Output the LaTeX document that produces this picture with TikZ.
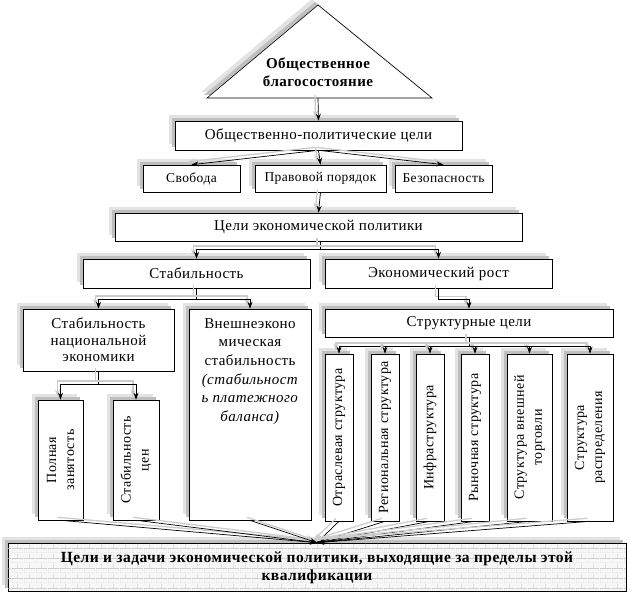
\documentclass[tikz,border=0pt]{standalone}
\usepackage{fontspec}
\setmainfont{Liberation Serif}[LetterSpace=3]
\usetikzlibrary{shadows,patterns,arrows.meta}

\pgfdeclarepatternformonly{smallbricks}{\pgfpointorigin}{\pgfpoint{12pt}{10pt}}{\pgfpoint{12pt}{10pt}}{%
  \pgfsetlinewidth{0.4pt}%
  \pgfpathmoveto{\pgfpoint{0pt}{0pt}}\pgfpathlineto{\pgfpoint{12pt}{0pt}}%
  \pgfpathmoveto{\pgfpoint{0pt}{5pt}}\pgfpathlineto{\pgfpoint{12pt}{5pt}}%
  \pgfpathmoveto{\pgfpoint{0pt}{0pt}}\pgfpathlineto{\pgfpoint{0pt}{5pt}}%
  \pgfpathmoveto{\pgfpoint{6pt}{5pt}}\pgfpathlineto{\pgfpoint{6pt}{10pt}}%
  \pgfusepath{stroke}}

\tikzset{
  shad/.style={drop shadow={shadow xshift=-6pt, shadow yshift=6pt, fill=gray!22, opacity=1},
               drop shadow={shadow xshift=-3pt, shadow yshift=3pt, fill=gray!50, opacity=1}},
  box/.style={draw=black, fill=white, line width=0.6pt, inner sep=1pt, align=center, shad,
              font=\fontsize{15}{18}\selectfont},
  smallbox/.style={box, font=\fontsize{13.5}{16}\selectfont},
  txt/.style={inner sep=0pt, align=center, font=\fontsize{15}{18}\selectfont},
  vtxt/.style={inner sep=0pt, align=center, rotate=90, font=\fontsize{14}{18}\selectfont},
  conn/.style={draw=black, line width=0.7pt,
               preaction={draw=gray!40, line width=1.3pt, transform canvas={shift={(-3pt,3pt)}}}},
  arr/.style={conn, -{Stealth[length=7pt,width=5pt]}}
}

\begin{document}
\begin{tikzpicture}[x=1pt,y=-1pt]
\useasboundingbox (0,0) rectangle (630,593);

% triangle
\path[draw=black, fill=white, line width=0.6pt, shad] (318,5) -- (432,98) -- (207,98) -- cycle;
\node[txt, font=\fontsize{15}{18}\bfseries\selectfont] (tri) at (318,72) {Общественное\\благосостояние};
\coordinate (tribase) at (318,98);

\node[box, minimum width=287pt, minimum height=29pt] (obp) at (318.5,135.5) {Общественно-политические цели};
\node[smallbox, minimum width=97pt, minimum height=27pt] (svob) at (191.5,178.5) {Свобода};
\node[smallbox, minimum width=131pt, minimum height=27pt] (prav) at (320.5,178.5) {Правовой порядок};
\node[smallbox, minimum width=97pt, minimum height=27pt] (bez) at (443.5,178.5) {Безопасность};

\node[box, minimum width=407pt, minimum height=28pt] (cep) at (318.5,227) {Цели экономической политики};
\node[box, minimum width=227pt, minimum height=29pt] (stab) at (196.5,273.5) {Стабильность};
\node[box, minimum width=227pt, minimum height=29pt] (ekr) at (438.5,273.5) {Экономический рост};

\node[box, minimum width=151pt, minimum height=62pt, font=\fontsize{15}{16.5}\selectfont] (sne) at (98.5,340) {Стабильность\\национальной\\экономики};
\node[box, minimum width=122pt, minimum height=211pt] (vne) at (250,414.5) {};
\node[txt, font=\fontsize{15}{18.6}\selectfont] (vnet) at (250,371.5) {Внешнеэконо\\мическая\\стабильность\\\textit{(стабильност}\\\textit{ь платежного}\\\textit{баланса)}};
\node[box, minimum width=288pt, minimum height=28pt] (strc) at (469,323) {Структурные цели};

\node[box, minimum width=45pt, minimum height=120pt] (pz) at (60.5,460) {};
\node[vtxt] (pzt) at (pz) {Полная\\занятость};
\node[box, minimum width=46pt, minimum height=120pt] (sc) at (136,460) {};
\node[vtxt] (sct) at (sc) {Стабильность\\цен};

\node[box, minimum width=28pt, minimum height=167pt] (r1) at (339,437.5) {};
\node[vtxt] (r1t) at (r1) {Отраслевая структура};
\node[box, minimum width=28pt, minimum height=167pt] (r2) at (385,437.5) {};
\node[vtxt] (r2t) at (r2) {Региональная структура};
\node[box, minimum width=28pt, minimum height=167pt] (r3) at (430,437.5) {};
\node[vtxt] (r3t) at (r3) {Инфраструктура};
\node[box, minimum width=28pt, minimum height=167pt] (r4) at (475,437.5) {};
\node[vtxt] (r4t) at (r4) {Рыночная структура};
\node[box, minimum width=45pt, minimum height=167pt] (r5) at (529.5,437.5) {};
\node[vtxt] (r5t) at (r5) {Структура внешней\\торговли};
\node[box, minimum width=46pt, minimum height=167pt] (r6) at (590,437.5) {};
\node[vtxt] (r6t) at (r6) {Структура\\распределения};

\node[box, minimum width=618pt, minimum height=48pt, fill=gray!6,
      postaction={pattern=smallbricks, pattern color=gray!55}] (bot) at (317,567) {};
\node[txt, font=\fontsize{15.5}{18}\bfseries\selectfont] (bott) at (317,568) {Цели и задачи экономической политики, выходящие за пределы этой\\квалификации};

% connectors
\draw[arr] (tribase) -- (obp.north);
\draw[arr] (obp.south) -- (svob.north);
\draw[arr] (obp.south) -- (prav.north);
\draw[arr] (obp.south) -- (bez.north);
\draw[arr] (prav.south) -- (cep.north);

\coordinate (j1) at (320,249);
\draw[conn] (cep.south -| j1) -- (j1);
\draw[arr] (j1) -| (stab.north);
\draw[arr] (j1) -| (ekr.north);

\coordinate (j2) at (196.5,299);
\draw[conn] (stab.south) -- (j2);
\draw[arr] (j2) -| (sne.north);
\draw[arr] (j2) -| (vne.north);

\draw[arr] (ekr.south) -- ++(0,11) -| (strc.north);

\coordinate (j3) at (469,346);
\draw[conn] (strc.south) -- (j3);
\foreach \r in {r1,r2,r3,r4,r5,r6} \draw[arr] (j3) -| (\r.north);

\coordinate (j4) at (98.5,384);
\draw[conn] (sne.south) -- (j4);
\draw[arr] (j4) -| (pz.north);
\draw[arr] (j4) -| (sc.north);

\foreach \s in {pz,sc,vne,r1,r2,r3,r4,r5,r6} \draw[arr] (\s.south) -- (bot.north);
\end{tikzpicture}
\end{document}
